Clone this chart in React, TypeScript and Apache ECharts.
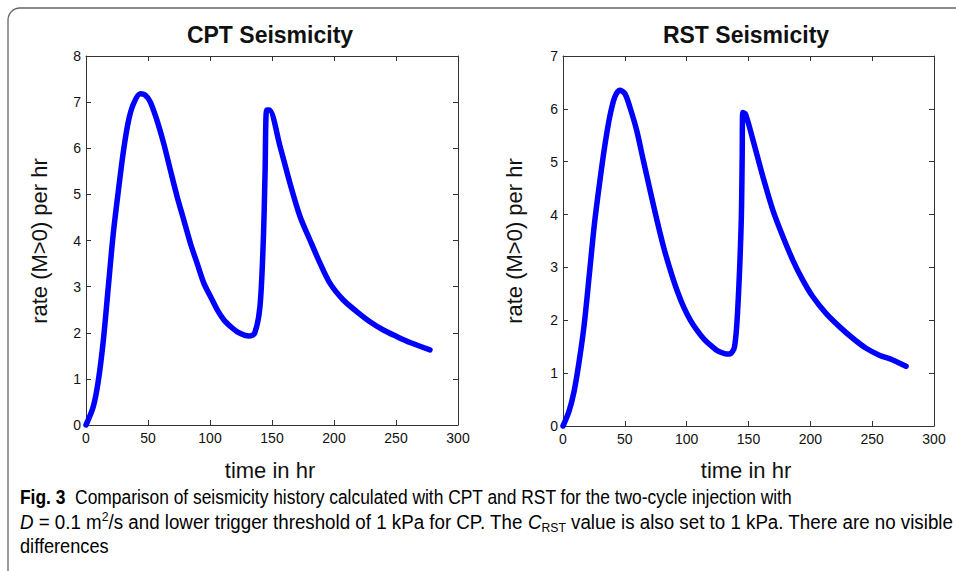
import React, { useEffect, useRef } from "react";
import * as echarts from "echarts";

const xTicks = [0, 50, 100, 150, 200, 250, 300];

const cptTime = [0, 5.9, 10, 14, 18, 22, 26.2, 30.3, 34.3, 38.4, 43.8, 47.8, 51.9, 57.3, 62.7, 68.1, 73.5, 78.9, 84.3, 89.7, 95.1, 100.5, 106, 111.4, 116.8, 122, 127.6, 131.6, 136, 140.3, 143, 144.4, 145.7, 147.8, 156.5, 164.5, 172.6, 180.6, 188.7, 196.8, 207.5, 218.3, 229, 239.8, 250.5, 261.3, 277.4];
const cptRate = [0, 0.4, 0.97, 1.84, 3.0, 4.15, 5.1, 5.96, 6.6, 6.97, 7.18, 7.15, 7.0, 6.6, 6.1, 5.52, 4.95, 4.44, 3.93, 3.5, 3.07, 2.78, 2.49, 2.27, 2.13, 2.02, 1.95, 1.93, 1.99, 2.57, 4.01, 5.46, 6.83, 6.83, 6.04, 5.24, 4.52, 4.01, 3.51, 3.07, 2.71, 2.46, 2.24, 2.06, 1.92, 1.79, 1.63];

const rstTime = [0, 4.9, 9, 13.1, 17.2, 21.3, 25.4, 29.5, 33.6, 37.7, 41.8, 45.9, 50, 54.1, 59.6, 65, 70.5, 76, 81.4, 86.9, 92.3, 97.8, 103.3, 108.7, 114.2, 119.7, 125.1, 130.6, 134.7, 138.7, 141.4, 144.1, 144.9, 145.4, 147.6, 153.5, 161.6, 169.6, 177.7, 185.8, 193.9, 201.9, 212.7, 223.5, 234.3, 245.1, 255.8, 266.6, 277.4];
const rstRate = [0, 0.28, 0.66, 1.23, 1.93, 2.87, 3.82, 4.58, 5.27, 5.84, 6.22, 6.35, 6.29, 6.03, 5.59, 5.02, 4.45, 3.89, 3.38, 2.94, 2.56, 2.24, 1.99, 1.8, 1.64, 1.52, 1.42, 1.37, 1.36, 1.5, 2.26, 3.84, 5.1, 5.93, 5.9, 5.42, 4.72, 4.09, 3.59, 3.14, 2.76, 2.45, 2.13, 1.88, 1.66, 1.47, 1.34, 1.25, 1.13];

const titles = ["CPT Seismicity", "RST Seismicity"];
const yMax = [8, 7];
const xLabel = "time in hr";
const yLabel = "rate (M>0) per hr";

const FONT = "'Liberation Sans', Arial, Helvetica, sans-serif";
const CAP_FONT = "'Liberation Sans', Arial, sans-serif";

export default function App() {
  const ref = useRef<HTMLDivElement>(null);
  useEffect(() => {
    if (!ref.current) return;
    const chart = echarts.init(ref.current, null, { renderer: "svg" });
    const grids = [
      { left: 86, top: 56, width: 372, height: 369 },
      { left: 563, top: 56, width: 371, height: 370 },
    ];
    const axisLine = { show: true, onZero: false, lineStyle: { color: "#333", width: 1 } };
    const tick = { show: true, inside: true, length: 5, lineStyle: { color: "#333" } };
    const xAxes: any[] = [];
    const yAxes: any[] = [];
    grids.forEach((_, i) => {
      xAxes.push({
        type: "value", gridIndex: i, min: 0, max: 300, interval: 50, position: "bottom",
        axisLine, axisTick: tick,
        axisLabel: { show: true, fontSize: 14, color: "#111", fontFamily: FONT, margin: 6 },
        splitLine: { show: false },
      });
      xAxes.push({
        type: "value", gridIndex: i, min: 0, max: 300, interval: 50, position: "top",
        axisLine, axisTick: tick, axisLabel: { show: false }, splitLine: { show: false },
      });
      yAxes.push({
        type: "value", gridIndex: i, min: 0, max: yMax[i], interval: 1, position: "left",
        axisLine, axisTick: tick,
        axisLabel: { show: true, fontSize: 14, color: "#111", fontFamily: FONT, margin: 5 },
        splitLine: { show: false },
      });
      yAxes.push({
        type: "value", gridIndex: i, min: 0, max: yMax[i], interval: 1, position: "right",
        axisLine, axisTick: tick, axisLabel: { show: false }, splitLine: { show: false },
      });
    });
    const mk = (t: number[], v: number[]) => t.map((x, k) => [x, v[k]]);
    const seriesData = [mk(cptTime, cptRate), mk(rstTime, rstRate)];
    const series = seriesData.map((d, i) => ({
      type: "line", xAxisIndex: i * 2, yAxisIndex: i * 2, data: d,
      showSymbol: false, smooth: 0.3, clip: false,
      lineStyle: { color: "#0000ff", width: 5.5, cap: "round", join: "round" },
    }));
    const titleCenters = [270, 746];
    const yLabelX = [39, 514];
    const graphic: any[] = [
      { type: "rect", shape: { x: 8, y: 8, width: 980, height: 600, r: [12, 0, 0, 0] }, style: { fill: "none", stroke: "#666", lineWidth: 1.3 }, silent: true },
    ];
    titles.forEach((t, i) => {
      graphic.push({ type: "text", x: titleCenters[i], y: 35, style: { text: t, font: `bold 23px ${FONT}`, fill: "#111", align: "center", verticalAlign: "middle" } });
      graphic.push({ type: "text", x: titleCenters[i], y: 470, style: { text: xLabel, font: `22px ${FONT}`, fill: "#111", align: "center", verticalAlign: "middle" } });
      graphic.push({ type: "text", x: yLabelX[i], y: 241, rotation: Math.PI / 2, style: { text: yLabel, font: `22px ${FONT}`, fill: "#111", align: "center", verticalAlign: "middle" } });
    });
    const rich = {
      b: { fontFamily: CAP_FONT, fontSize: 20, fontWeight: "bold", color: "#231f20", lineHeight: 24 },
      n: { fontFamily: CAP_FONT, fontSize: 20, color: "#231f20", lineHeight: 24 },
      i: { fontFamily: CAP_FONT, fontSize: 20, fontStyle: "italic", color: "#231f20", lineHeight: 24 },
      sup: { fontFamily: CAP_FONT, fontSize: 13, color: "#231f20", lineHeight: 13, verticalAlign: "top" },
      sub: { fontFamily: CAP_FONT, fontSize: 13, color: "#231f20", lineHeight: 13, verticalAlign: "bottom" },
    };
    const capLines = [
      "{b|Fig. 3}{n|  Comparison of seismicity history calculated with CPT and RST for the two-cycle injection with}",
      "{i|D}{n| = 0.1 m}{sup|2}{n|/s and lower trigger threshold of 1 kPa for CP. The }{i|C}{sub|RST}{n| value is also set to 1 kPa. There are no visible}",
      "{n|differences}",
    ];
    const capY = [497, 522, 546];
    const capScale = [0.87, 0.937, 0.91];
    capLines.forEach((txt, k) => {
      graphic.push({ type: "text", x: 20, y: capY[k], scaleX: capScale[k], style: { text: txt, rich, align: "left", verticalAlign: "middle" } });
    });
    chart.setOption({
      animation: false,
      backgroundColor: "#fff",
      grid: grids.map((g) => ({ ...g, containLabel: false })),
      xAxis: xAxes,
      yAxis: yAxes,
      series,
      graphic,
    });
    return () => chart.dispose();
  }, []);
  return <div ref={ref} style={{ position: "fixed", left: 0, top: 0, width: 956, height: 571 }} />;
}
